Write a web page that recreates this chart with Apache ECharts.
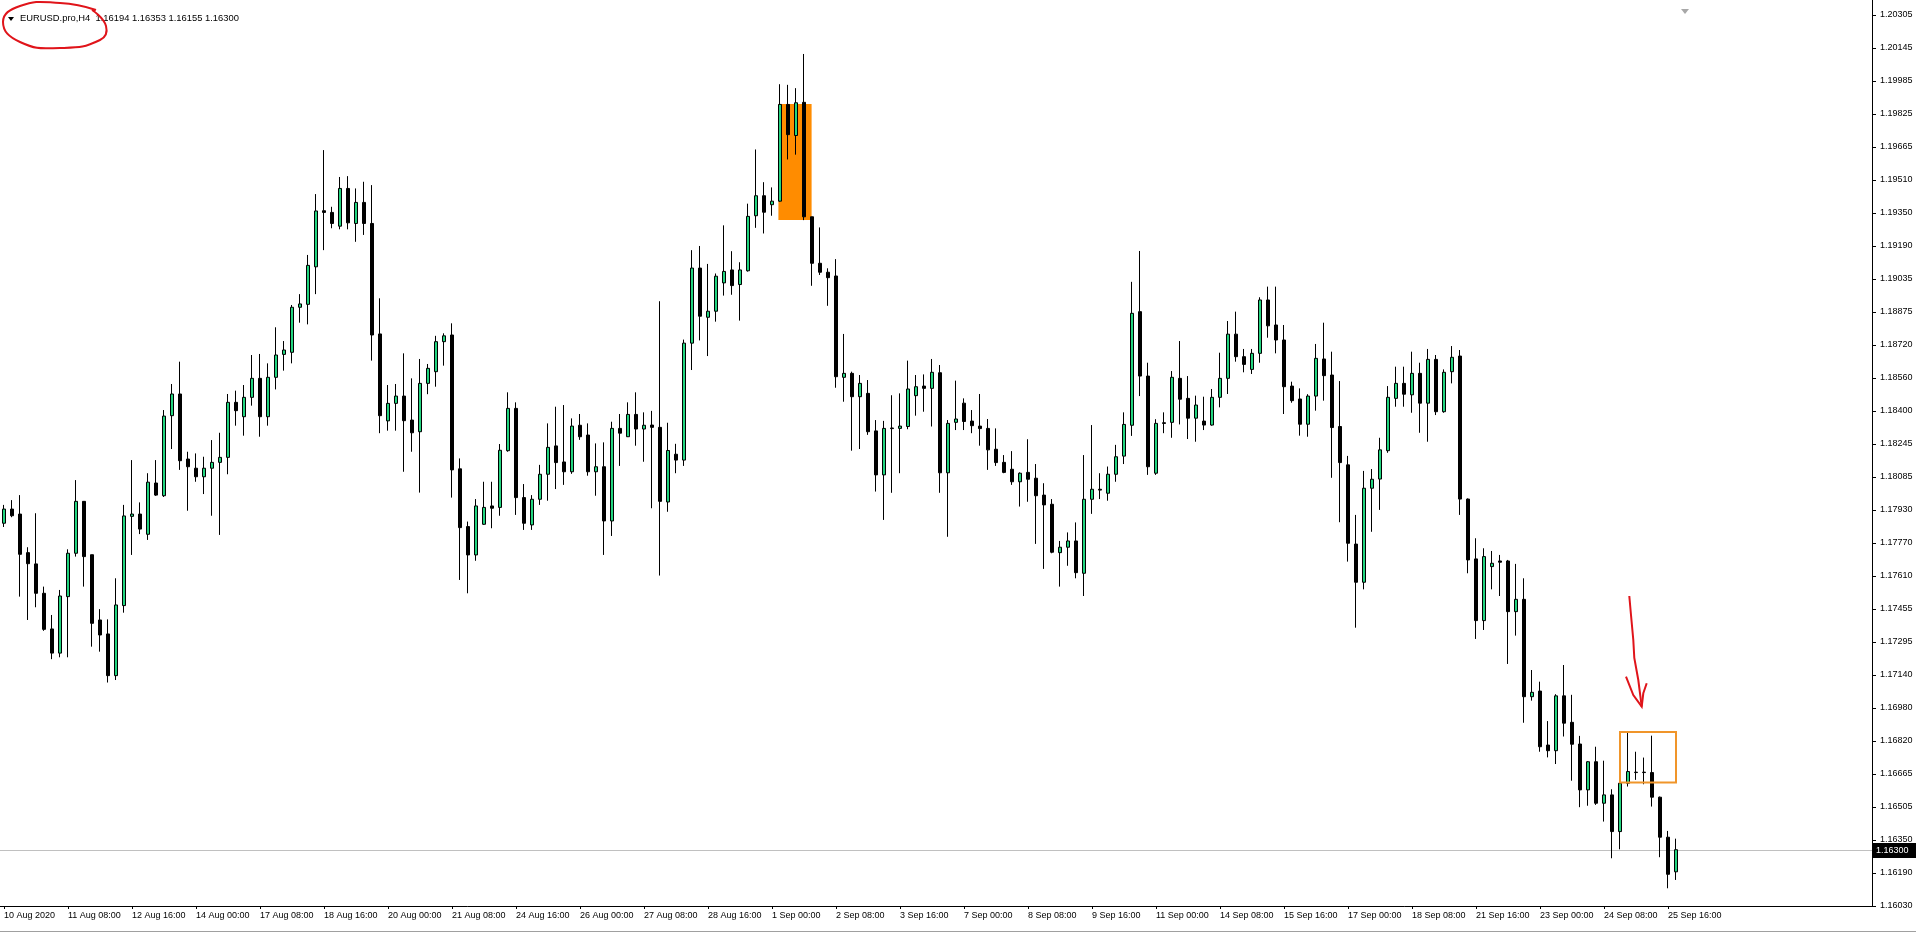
<!DOCTYPE html>
<html>
<head>
<meta charset="utf-8">
<script src="https://cdn.jsdelivr.net/npm/echarts@6/dist/echarts.min.js"></script>
<style>
html,body{margin:0;padding:0;background:#fff;}
#chart{width:1916px;height:934px;}
</style>
</head>
<body>
<div id="chart"></div>
<script>
// ---- data (EURUSD.pro, H4) ----
const opens = [
1.17866,1.17934,1.17910,1.17725,1.17671,1.17530,1.17359,1.17243,1.17514,1.17722,
1.17971,1.17715,1.17402,1.17335,1.17135,1.17471,1.17899,1.17910,1.17813,1.18059,
1.17998,1.18382,1.18486,1.18174,1.18130,1.18089,1.18130,1.18158,1.18182,1.18446,
1.18377,1.18470,1.18561,1.18377,1.18566,1.18676,1.18686,1.18902,1.18916,1.19096,
1.19365,1.19357,1.19291,1.19472,1.19304,1.19405,1.19304,1.18774,1.18357,1.18441,
1.18476,1.18361,1.18305,1.18537,1.18593,1.18737,1.18769,1.18127,1.17850,1.17714,
1.17861,1.17949,1.17942,1.18214,1.18417,1.17989,1.17858,1.17981,1.18101,1.18237,
1.18160,1.18113,1.18336,1.18289,1.18113,1.18137,1.17877,1.18321,1.18281,1.18388,
1.18318,1.18337,1.18326,1.17968,1.18197,1.18169,1.18730,1.19090,1.18854,1.18883,
1.19019,1.19081,1.19011,1.19077,1.19341,1.19437,1.19394,1.19411,1.19875,1.19726,
1.19885,1.19336,1.19113,1.19070,1.19052,1.18566,1.18585,1.18473,1.18489,1.18309,
1.18098,1.18323,1.18321,1.18330,1.18478,1.18524,1.18513,1.18588,1.18108,1.18350,
1.18442,1.18356,1.18332,1.18321,1.18221,1.18158,1.18125,1.18065,1.18110,1.18082,
1.18001,1.17957,1.17725,1.17751,1.17781,1.17626,1.17981,1.18029,1.18010,1.18101,
1.18188,1.18336,1.18881,1.18572,1.18106,1.18348,1.18350,1.18561,1.18465,1.18370,
1.18356,1.18337,1.18470,1.18561,1.18773,1.18665,1.18604,1.18681,1.18937,1.18817,
1.18745,1.18524,1.18462,1.18341,1.18476,1.18654,1.18577,1.18330,1.18146,1.17766,
1.17583,1.18034,1.18078,1.18214,1.18465,1.18537,1.18482,1.18585,1.18442,1.18652,
1.18401,1.18593,1.18668,1.17982,1.17695,1.17399,1.17658,1.17685,1.17685,1.17442,
1.17501,1.17034,1.17061,1.16802,1.16775,1.17038,1.16911,1.16807,1.16587,1.16722,
1.16523,1.16563,1.16387,1.16619,1.16672,1.16672,1.16670,1.16552,1.16360,1.16194
];
const highs = [
1.17954,1.17977,1.18001,1.17751,1.17914,1.17562,1.17426,1.17546,1.17741,1.18073,
1.17971,1.17715,1.17454,1.17405,1.17602,1.17954,1.18169,1.17966,1.18106,1.18169,
1.18409,1.18534,1.18641,1.18209,1.18201,1.18185,1.18265,1.18300,1.18486,1.18502,
1.18529,1.18673,1.18678,1.18633,1.18806,1.18740,1.18913,1.18965,1.19153,1.19445,
1.19656,1.19384,1.19527,1.19531,1.19472,1.19504,1.19488,1.18945,1.18529,1.18534,
1.18681,1.18561,1.18654,1.18630,1.18765,1.18777,1.18825,1.18177,1.17874,1.17982,
1.18065,1.18065,1.18246,1.18494,1.18446,1.18054,1.18001,1.18146,1.18345,1.18425,
1.18433,1.18369,1.18390,1.18345,1.18249,1.18254,1.18353,1.18390,1.18446,1.18494,
1.18398,1.18405,1.18931,1.18348,1.18247,1.18747,1.19176,1.19196,1.19110,1.19064,
1.19295,1.19171,1.19118,1.19399,1.19659,1.19502,1.19477,1.19972,1.19969,1.19953,
1.20117,1.19336,1.19285,1.19089,1.19133,1.18774,1.18593,1.18577,1.18553,1.18361,
1.18357,1.18480,1.18489,1.18646,1.18577,1.18580,1.18654,1.18625,1.18361,1.18550,
1.18465,1.18409,1.18486,1.18366,1.18321,1.18193,1.18212,1.18110,1.18269,1.18150,
1.18058,1.17982,1.17781,1.17822,1.17870,1.18193,1.18337,1.18106,1.18138,1.18242,
1.18398,1.19024,1.19172,1.18636,1.18365,1.18398,1.18596,1.18740,1.18572,1.18478,
1.18473,1.18510,1.18684,1.18836,1.18881,1.18702,1.18702,1.18950,1.19001,1.19001,
1.18817,1.18545,1.18513,1.18485,1.18726,1.18828,1.18689,1.18548,1.18189,1.17906,
1.18117,1.18126,1.18276,1.18524,1.18617,1.18617,1.18689,1.18636,1.18702,1.18673,
1.18604,1.18716,1.18697,1.17985,1.17794,1.17746,1.17733,1.17714,1.17690,1.17671,
1.17602,1.17162,1.17106,1.16917,1.17046,1.17186,1.17043,1.16846,1.16725,1.16794,
1.16727,1.16590,1.16687,1.16866,1.16770,1.16742,1.16847,1.16555,1.16390,1.16353
];
const lows = [
1.17848,1.17895,1.17514,1.17402,1.17463,1.17350,1.17214,1.17223,1.17223,1.17706,
1.17562,1.17274,1.17250,1.17102,1.17114,1.17437,1.17714,1.17814,1.17786,1.17997,
1.17992,1.18222,1.18122,1.17926,1.18065,1.18006,1.17902,1.17810,1.18101,1.18334,
1.18286,1.18430,1.18281,1.18334,1.18508,1.18598,1.18633,1.18828,1.18820,1.18965,
1.19176,1.19281,1.19276,1.19276,1.19216,1.19249,1.18646,1.18298,1.18310,1.18310,
1.18113,1.18209,1.18013,1.18485,1.18521,1.18622,1.17989,1.17594,1.17530,1.17686,
1.17858,1.17842,1.17902,1.18209,1.17906,1.17834,1.17834,1.17954,1.17974,1.18030,
1.18050,1.18103,1.18266,1.18094,1.17998,1.17714,1.17805,1.18141,1.18280,1.18238,
1.18161,1.17938,1.17615,1.17921,1.18106,1.18141,1.18601,1.18743,1.18668,1.18833,
1.18958,1.18962,1.18838,1.19073,1.19283,1.19256,1.19341,1.19408,1.19611,1.19634,
1.19320,1.19005,1.19057,1.18909,1.18516,1.18449,1.18214,1.18222,1.18290,1.18018,
1.17882,1.18012,1.18106,1.18317,1.18382,1.18401,1.18330,1.18012,1.17801,1.18313,
1.18313,1.18298,1.18238,1.18122,1.18141,1.18106,1.18050,1.17946,1.17969,1.17767,
1.17647,1.17722,1.17562,1.17662,1.17602,1.17517,1.17911,1.17982,1.17974,1.18065,
1.18150,1.18285,1.18476,1.18098,1.18098,1.18298,1.18276,1.18340,1.18270,1.18257,
1.18313,1.18334,1.18422,1.18486,1.18641,1.18590,1.18582,1.18636,1.18756,1.18681,
1.18390,1.18444,1.18286,1.18281,1.18406,1.18454,1.18084,1.17871,1.17682,1.17365,
1.17549,1.17825,1.17930,1.18204,1.18425,1.18425,1.18396,1.18300,1.18257,1.18385,
1.18396,1.18537,1.17906,1.17626,1.17311,1.17354,1.17549,1.17517,1.17191,1.17327,
1.16909,1.17015,1.16770,1.16743,1.16711,1.16843,1.16631,1.16504,1.16511,1.16515,
1.16435,1.16259,1.16302,1.16603,1.16635,1.16614,1.16507,1.16264,1.16115,1.16155
];
const closes = [
1.17934,1.17902,1.17717,1.17672,1.17530,1.17357,1.17243,1.17517,1.17722,1.17971,
1.17706,1.17386,1.17330,1.17135,1.17474,1.17901,1.17910,1.17838,1.18063,1.18001,
1.18380,1.18486,1.18166,1.18137,1.18089,1.18130,1.18158,1.18182,1.18446,1.18406,
1.18470,1.18561,1.18377,1.18566,1.18673,1.18697,1.18902,1.18918,1.19103,1.19364,
1.19357,1.19304,1.19472,1.19307,1.19405,1.19304,1.18769,1.18382,1.18441,1.18476,
1.18358,1.18300,1.18537,1.18609,1.18737,1.18765,1.18122,1.17845,1.17714,1.17949,
1.17942,1.17938,1.18216,1.18417,1.17989,1.17866,1.17981,1.18101,1.18230,1.18157,
1.18113,1.18332,1.18281,1.18113,1.18137,1.17877,1.18321,1.18298,1.18388,1.18318,
1.18336,1.18326,1.17971,1.18215,1.18169,1.18730,1.19090,1.18859,1.18883,1.19051,
1.19074,1.19006,1.19081,1.19338,1.19437,1.19358,1.19411,1.19875,1.19730,1.19883,
1.19336,1.19113,1.19070,1.19044,1.18569,1.18585,1.18473,1.18537,1.18305,1.18098,
1.18321,1.18320,1.18332,1.18510,1.18521,1.18513,1.18590,1.18108,1.18345,1.18366,
1.18354,1.18334,1.18320,1.18218,1.18157,1.18110,1.18065,1.18106,1.18077,1.17998,
1.17954,1.17727,1.17751,1.17781,1.17629,1.17981,1.18029,1.18025,1.18101,1.18185,
1.18340,1.18873,1.18572,1.18137,1.18345,1.18345,1.18566,1.18461,1.18370,1.18433,
1.18337,1.18470,1.18561,1.18773,1.18665,1.18628,1.18681,1.18937,1.18813,1.18745,
1.18521,1.18454,1.18341,1.18476,1.18657,1.18574,1.18325,1.18157,1.17770,1.17583,
1.18034,1.18077,1.18218,1.18470,1.18537,1.18485,1.18585,1.18442,1.18652,1.18401,
1.18590,1.18662,1.17982,1.17690,1.17399,1.17706,1.17674,1.17679,1.17442,1.17501,
1.17034,1.17055,1.16794,1.16775,1.17038,1.16907,1.16806,1.16587,1.16722,1.16523,
1.16563,1.16387,1.16619,1.16675,1.16670,1.16670,1.16552,1.16360,1.16182,1.16300
];
// x tick labels, one every 8 bars
const xTickLabels = ["10 Aug 2020","11 Aug 08:00","12 Aug 16:00","14 Aug 00:00","17 Aug 08:00","18 Aug 16:00","20 Aug 00:00","21 Aug 08:00","24 Aug 16:00","26 Aug 00:00","27 Aug 08:00","28 Aug 16:00","1 Sep 00:00","2 Sep 08:00","3 Sep 16:00","7 Sep 00:00","8 Sep 08:00","9 Sep 16:00","11 Sep 00:00","14 Sep 08:00","15 Sep 16:00","17 Sep 00:00","18 Sep 08:00","21 Sep 16:00","23 Sep 00:00","24 Sep 08:00","25 Sep 16:00"];
// y tick labels, top to bottom
const yTickLabels = ["1.20305","1.20145","1.19985","1.19825","1.19665","1.19510","1.19350","1.19190","1.19035","1.18875","1.18720","1.18560","1.18400","1.18245","1.18085","1.17930","1.17770","1.17610","1.17455","1.17295","1.17140","1.16980","1.16820","1.16665","1.16505","1.16350","1.16190","1.16030"];
const titleText = "EURUSD.pro,H4  1.16194 1.16353 1.16155 1.16300";
const currentPrice = 1.16300;
// annotation boxes: [fromBar, toBar, topPrice, bottomPrice]
const filledBox = [96.8, 100.95, 1.19877, 1.19321];
const outlineBox = [202, 209, 1.16865, 1.16622];

// ---- categories (H4 bar times, weekdays) ----
const months = ["Jan","Feb","Mar","Apr","May","Jun","Jul","Aug","Sep","Oct","Nov","Dec"];
const categories = [];
{
  let d = new Date(Date.UTC(2020, 7, 10));
  while (categories.length < opens.length) {
    const wd = d.getUTCDay();
    if (wd !== 0 && wd !== 6) {
      for (let h = 0; h < 24 && categories.length < opens.length; h += 4) {
        categories.push(d.getUTCDate() + " " + months[d.getUTCMonth()] + " " + String(h).padStart(2, "0") + ":00");
      }
    }
    d = new Date(d.getTime() + 86400000);
  }
}
const TOTAL_SLOTS = 234;
while (categories.length < TOTAL_SLOTS) categories.push("");

const candleData = opens.map((o, i) => [o, closes[i], lows[i], highs[i]]);

const Y_MIN = 1.16030;
const Y_STEP = 1.16030 / 733;
const PX_PER_UNIT = 33.0 / Y_STEP;
const GRID_H = 906;
const Y_MAX = Y_MIN + GRID_H / PX_PER_UNIT;

const FONT = "'Liberation Sans', Arial, sans-serif";

function boxRender(params, api, filled) {
  const a = api.value(0), b = api.value(1), top = api.value(2), bot = api.value(3);
  const bw = api.size([1, 0])[0];
  const xa = api.coord([Math.floor(a), top])[0] + (a - Math.floor(a)) * bw;
  const xb = api.coord([Math.floor(b), top])[0] + (b - Math.floor(b)) * bw;
  const yt = api.coord([0, top])[1];
  const yb = api.coord([0, bot])[1];
  return {
    type: 'rect',
    shape: { x: xa, y: yt, width: xb - xa, height: yb - yt },
    style: filled ? { fill: '#FF8C00', stroke: null }
                  : { fill: null, stroke: '#F0952A', lineWidth: 2 }
  };
}

function priceLineRender(params, api) {
  const cs = params.coordSys;
  const y = Math.round(api.coord([0, api.value(0)])[1]) + 0.5;
  const right = cs.x + cs.width;
  return {
    type: 'group',
    children: [
      { type: 'line', shape: { x1: cs.x, y1: y, x2: right, y2: y }, style: { stroke: '#C0C0C0', lineWidth: 1 } },
      { type: 'rect', shape: { x: right, y: y - 7.5, width: 1916 - right, height: 15 }, style: { fill: '#000' } },
      { type: 'text', x: right + 4, y: y, style: { text: api.value(0).toFixed(5), fill: '#fff', font: '9px ' + FONT, verticalAlign: 'middle', align: 'left' } }
    ]
  };
}

const chart = echarts.init(document.getElementById('chart'), null, { renderer: 'canvas' });
chart.setOption({
  animation: false,
  backgroundColor: '#ffffff',
  grid: { left: 0, top: 0, width: 1872, height: GRID_H, containLabel: false },
  xAxis: {
    type: 'category',
    data: categories,
    boundaryGap: true,
    axisLine: { show: true, lineStyle: { color: '#000', width: 1 } },
    axisTick: {
      show: true, alignWithLabel: true, length: 3,
      interval: (i) => i % 8 === 0 && i / 8 < xTickLabels.length,
      lineStyle: { color: '#000' }
    },
    axisLabel: {
      show: true,
      interval: (i) => i % 8 === 0 && i / 8 < xTickLabels.length,
      formatter: (v, i) => (i % 8 === 0 ? (xTickLabels[i / 8] || '') : ''),
      align: 'left',
      margin: 5,
      color: '#000',
      fontSize: 9,
      fontFamily: FONT,
      hideOverlap: false
    },
    splitLine: { show: false }
  },
  yAxis: {
    type: 'value',
    position: 'right',
    min: Y_MIN,
    max: Y_MAX,
    interval: Y_STEP,
    scale: true,
    axisLine: { show: true, lineStyle: { color: '#000', width: 1 } },
    axisTick: { show: true, length: 4, lineStyle: { color: '#000' } },
    splitLine: { show: false },
    axisLabel: {
      show: true,
      color: '#000',
      fontSize: 9,
      fontFamily: FONT,
      margin: 8,
      showMaxLabel: false,
      formatter: (v) => {
        const i = Math.round((v - Y_MIN) / Y_STEP);
        if (Math.abs(v - (Y_MIN + i * Y_STEP)) > Y_STEP * 0.02) return '';
        return yTickLabels[yTickLabels.length - 1 - i] || '';
      }
    }
  },
  series: [
    {
      type: 'custom',
      name: 'zone',
      z: 1,
      renderItem: (p, api) => boxRender(p, api, true),
      data: [filledBox],
      encode: { x: [0, 1], y: [2, 3] },
      silent: true
    },
    {
      type: 'custom',
      name: 'price',
      z: 1,
      renderItem: priceLineRender,
      data: [[currentPrice]],
      encode: { y: 0 },
      silent: true,
      clip: false
    },
    {
      type: 'candlestick',
      name: 'EURUSD',
      z: 2,
      data: candleData,
      barWidth: 4,
      itemStyle: {
        color: '#22D47F',
        color0: '#000000',
        borderColor: '#000000',
        borderColor0: '#000000',
        borderWidth: 1
      }
    },
    {
      type: 'custom',
      name: 'box',
      z: 3,
      renderItem: (p, api) => boxRender(p, api, false),
      data: [outlineBox],
      encode: { x: [0, 1], y: [2, 3] },
      silent: true
    }
  ],
  graphic: [
    { type: 'polygon', shape: { points: [[8, 17], [14, 17], [11, 21]] }, style: { fill: '#000' } },
    { type: 'text', x: 20, y: 14, style: { text: titleText, fill: '#000', font: '9.4px ' + FONT } },
    { type: 'polygon', shape: { points: [[1681, 9], [1689, 9], [1685, 14]] }, style: { fill: '#A8A8A8' } },
    { type: 'line', shape: { x1: 0, y1: 931.5, x2: 1916, y2: 931.5 }, style: { stroke: '#A0A0A0', lineWidth: 1 } },
    { type: 'polyline', shape: { smooth: 0.5, points: [[96, 10], [60, 3], [20, 6], [3, 22], [20, 42], [60, 48], [100, 40], [106, 26], [92, 10]] }, style: { fill: null, stroke: '#E0141A', lineWidth: 2 } },
    { type: 'polyline', shape: { points: [[1629.3, 596], [1631, 615], [1633.3, 640], [1634.3, 658], [1638.3, 680], [1641.7, 706.7]] }, style: { stroke: '#E0141A', lineWidth: 2, fill: null } },
    { type: 'polyline', shape: { points: [[1626, 676.7], [1633.3, 695], [1641.7, 706.7], [1643.3, 693.3], [1646.7, 683.3]] }, style: { stroke: '#E0141A', lineWidth: 2, fill: null } }
  ]
});
</script>
</body>
</html>
